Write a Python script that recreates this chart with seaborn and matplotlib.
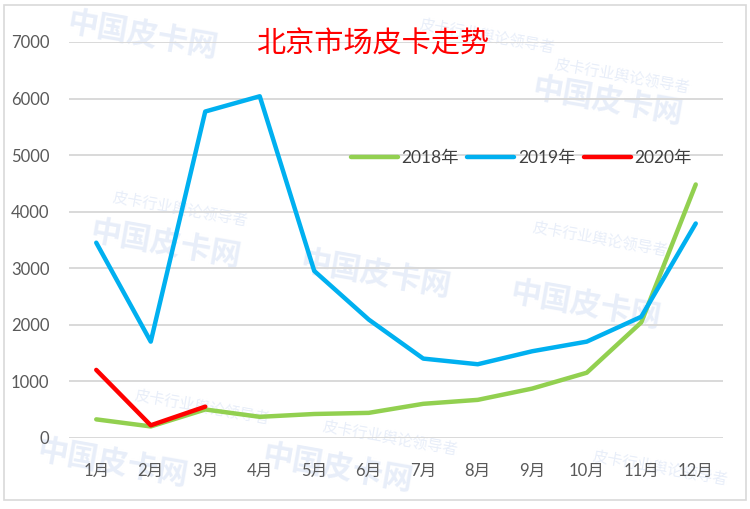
import matplotlib
matplotlib.use("Agg")
import matplotlib.pyplot as plt
import seaborn as sns
import pandas as pd
from matplotlib.patches import Rectangle
from matplotlib.lines import Line2D

months = ["1月", "2月", "3月", "4月", "5月", "6月", "7月", "8月", "9月", "10月", "11月", "12月"]
sales_2018 = [325, 200, 500, 370, 420, 440, 600, 670, 870, 1150, 2040, 4480]
sales_2019 = [3450, 1700, 5770, 6040, 2950, 2090, 1400, 1300, 1530, 1700, 2140, 3790]
sales_2020 = [1200, 220, 550]
series_names = ["2018年", "2019年", "2020年"]
title_text = "北京市场皮卡走势"
watermark_big = "中国皮卡网"
watermark_small = "皮卡行业舆论领导者"

rows = []
for name, vals in zip(series_names, [sales_2018, sales_2019, sales_2020]):
    for m, v in zip(months, vals):
        rows.append({"月份": m, "销量": v, "年份": name})
df = pd.DataFrame(rows)

sns.set_theme(style="white")
plt.rcParams["font.family"] = ["Lato", "Noto Sans CJK SC", "DejaVu Sans"]

fig = plt.figure(figsize=(7.5, 5.09), dpi=100)
ax = fig.add_axes([0.092, 0.140, 0.872, 0.7775])
ax.set_zorder(2)

# faint watermarks (behind the chart)
wm_color = "#E8EEF9"
for (x, y) in [(0.19, 0.93), (0.81, 0.80), (0.22, 0.52), (0.50, 0.46), (0.78, 0.40), (0.15, 0.09), (0.45, 0.08)]:
    fig.text(x, y, watermark_big, fontsize=22, fontweight="bold", color=wm_color,
             rotation=-10, ha="center", va="center", zorder=-1,
             family=["Noto Sans CJK SC"])
for (x, y) in [(0.65, 0.93), (0.83, 0.85), (0.24, 0.59), (0.80, 0.53), (0.27, 0.20), (0.52, 0.14), (0.88, 0.08)]:
    fig.text(x, y, watermark_small, fontsize=11, color=wm_color,
             rotation=-10, ha="center", va="center", zorder=-1,
             family=["Noto Sans CJK SC"])

ax.patch.set_alpha(0)
palette = {"2018年": "#92D050", "2019年": "#00B0F0", "2020年": "#FF0000"}
sns.lineplot(data=df, x="月份", y="销量", hue="年份", palette=palette,
             linewidth=3.2, sort=False, ax=ax, legend=False, zorder=3)

ax.set_xlim(-0.5, 11.5)
ax.set_ylim(0, 7000)
ax.set_yticks(range(0, 7001, 1000))
ax.yaxis.grid(True, color="#D9D9D9", linewidth=1.4)
ax.xaxis.grid(False)
for s in ax.spines.values():
    s.set_visible(False)
ax.set_xlabel("")
ax.set_ylabel("")
ax.tick_params(axis="y", labelsize=12, labelcolor="#595959", length=0, pad=14)
ax.tick_params(axis="x", labelsize=12, labelcolor="#595959", length=0, pad=18)

handles = [Line2D([0], [0], color=palette[n], lw=3.2) for n in series_names]
fig.legend(handles, series_names, loc="center", bbox_to_anchor=(0.695, 0.69),
           ncol=3, frameon=False, fontsize=12.5, handlelength=2.7,
           handletextpad=0.2, columnspacing=0.5, labelcolor="#404040")

fig.text(0.497, 0.912, title_text, fontsize=21, color="#FF0000",
         ha="center", va="center", family=["Noto Sans CJK SC"])

fig.patches.append(Rectangle((0.005, 0.018), 0.989, 0.972, transform=fig.transFigure,
                             fill=False, edgecolor="#D9D9D9", linewidth=1.2))

fig.savefig("out.png", dpi=100)
